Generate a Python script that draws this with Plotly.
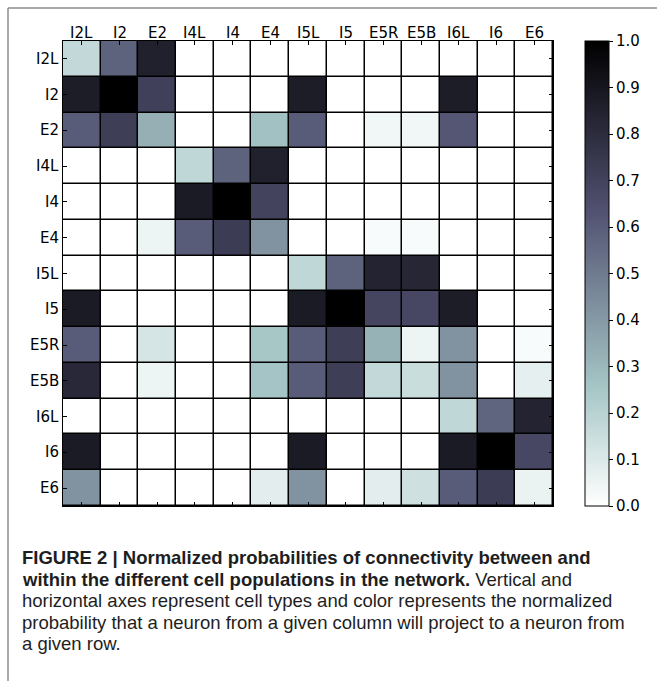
import plotly.graph_objects as go

# Cell populations (rows = target, columns = source)
populations = ["I2L", "I2", "E2", "I4L", "I4", "E4", "I5L", "I5",
               "E5R", "E5B", "I6L", "I6", "E6"]

# Normalized connection probabilities, one list per row
row_I2L = [0.17, 0.58, 0.85, 0, 0, 0, 0, 0, 0, 0, 0, 0, 0]
row_I2 = [0.87, 1.00, 0.71, 0, 0, 0, 0.87, 0, 0, 0, 0.87, 0, 0]
row_E2 = [0.60, 0.72, 0.33, 0, 0, 0.27, 0.60, 0, 0.04, 0.04, 0.62, 0, 0]
row_I4L = [0, 0, 0, 0.18, 0.58, 0.85, 0, 0, 0, 0, 0, 0, 0]
row_I4 = [0, 0, 0, 0.88, 1.00, 0.70, 0, 0, 0, 0, 0, 0, 0]
row_E4 = [0, 0, 0.05, 0.60, 0.73, 0.42, 0, 0, 0.02, 0.02, 0, 0, 0]
row_I5L = [0, 0, 0, 0, 0, 0, 0.18, 0.58, 0.84, 0.83, 0, 0, 0]
row_I5 = [0.88, 0, 0, 0, 0, 0, 0.88, 1.00, 0.69, 0.68, 0.87, 0, 0]
row_E5R = [0.60, 0, 0.12, 0, 0, 0.25, 0.60, 0.72, 0.32, 0.05, 0.42, 0, 0.02]
row_E5B = [0.82, 0, 0.05, 0, 0, 0.26, 0.60, 0.72, 0.17, 0.15, 0.42, 0, 0.07]
row_I6L = [0, 0, 0, 0, 0, 0, 0, 0, 0, 0, 0.18, 0.57, 0.84]
row_I6 = [0.88, 0, 0, 0, 0, 0, 0.88, 0, 0, 0, 0.88, 1.00, 0.68]
row_E6 = [0.42, 0, 0, 0, 0, 0.08, 0.42, 0, 0.08, 0.14, 0.60, 0.73, 0.06]

matrix = [row_I2L, row_I2, row_E2, row_I4L, row_I4, row_E4, row_I5L,
          row_I5, row_E5R, row_E5B, row_I6L, row_I6, row_E6]

colorbar_ticks = [0.0, 0.1, 0.2, 0.3, 0.4, 0.5, 0.6, 0.7, 0.8, 0.9, 1.0]

# Reversed "bone" colormap (white -> teal-grey -> slate -> black)
bone_r = [
    [0.0, "rgb(255,255,255)"],
    [0.253968, "rgb(166,198,198)"],
    [0.634921, "rgb(81,81,113)"],
    [1.0, "rgb(0,0,0)"],
]

W, H = 657, 681
left, right, top, bottom = 63, 553, 41, 506

label_font = dict(family="DejaVu Sans", size=15, color="black")

fig = go.Figure(
    go.Heatmap(
        z=matrix,
        x=populations,
        y=populations,
        zmin=0, zmax=1,
        colorscale=bone_r,
        xgap=1.5, ygap=1.5,
        colorbar=dict(
            thickness=24,
            thicknessmode="pixels",
            len=bottom - top,
            lenmode="pixels",
            x=585 / W, xanchor="left",
            y=1 - top / H, yanchor="top",
            outlinewidth=1, outlinecolor="black",
            tickvals=colorbar_ticks,
            tickformat=".1f",
            ticks="outside", ticklen=4, tickcolor="black",
            tickfont=label_font,
            xpad=0, ypad=0,
        ),
    )
)

fig.update_xaxes(
    domain=[left / W, right / W],
    side="top",
    ticks="inside", ticklen=4, tickcolor="black",
    mirror="ticks",
    showline=True, linecolor="black", linewidth=1,
    showticklabels=False,
    showgrid=False, zeroline=False,
    fixedrange=True,
)
fig.update_yaxes(
    domain=[1 - bottom / H, 1 - top / H],
    autorange="reversed",
    ticks="inside", ticklen=4, tickcolor="black",
    mirror="ticks",
    showline=True, linecolor="black", linewidth=1,
    showticklabels=False,
    showgrid=False, zeroline=False,
    fixedrange=True,
)

annotations = []

# Category labels: columns above the matrix, rows to its left
for name in populations:
    annotations.append(dict(
        text=name, x=name, xref="x", y=1 - 33 / H, yref="paper",
        xanchor="center", yanchor="middle", showarrow=False, font=label_font,
    ))
    annotations.append(dict(
        text=name, x=61 / W, xref="paper", y=name, yref="y",
        xanchor="right", yanchor="middle", showarrow=False, font=label_font,
    ))

# Figure caption lines
caption_lines = [
    "<b>FIGURE 2 | Normalized probabilities of connectivity between and</b>",
    "<b>within the different cell populations in the network.</b> Vertical and",
    "horizontal axes represent cell types and color represents the normalized",
    "probability that a neuron from a given column will project to a neuron from",
    "a given row.",
]
caption_y = [557, 579, 600, 622, 643]

for line, yc in zip(caption_lines, caption_y):
    annotations.append(dict(
        text=line,
        x=20 / W, y=1 - yc / H,
        xref="paper", yref="paper",
        xanchor="left", yanchor="middle",
        showarrow=False,
        font=dict(family="Liberation Sans", size=18.5, color="#1e1e1e"),
    ))

# Grey frame along the top and left edges
frame = dict(color="#8c8c8c", width=1.5)
shapes = [
    dict(type="line", xref="paper", yref="paper",
         x0=8 / W, x1=1, y0=1 - 8 / H, y1=1 - 8 / H, line=frame),
    dict(type="line", xref="paper", yref="paper",
         x0=8 / W, x1=8 / W, y0=1 - 8 / H, y1=0, line=frame),
]

fig.update_layout(
    width=W, height=H,
    autosize=False,
    margin=dict(l=0, r=0, t=0, b=0),
    paper_bgcolor="white",
    plot_bgcolor="black",
    annotations=annotations,
    shapes=shapes,
)

fig.write_html("out.html", config={"displayModeBar": False})
